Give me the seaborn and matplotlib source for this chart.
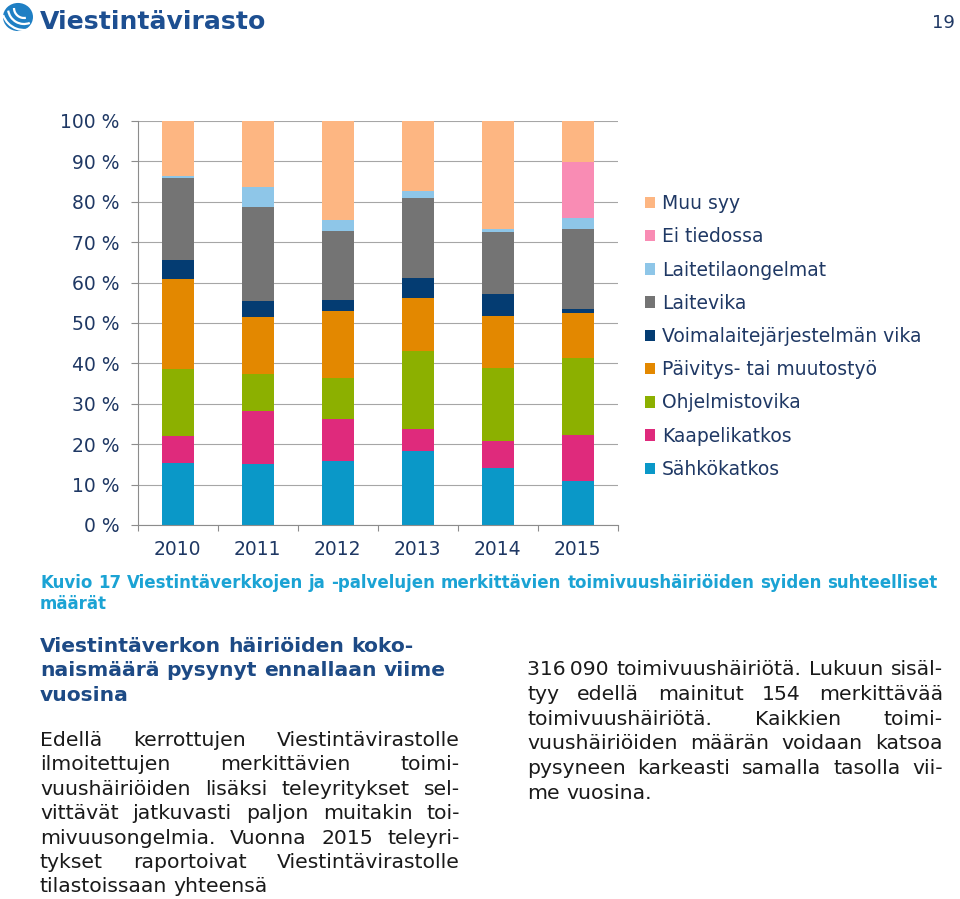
import numpy as np
import pandas as pd
import matplotlib
matplotlib.use('Agg')
import matplotlib.pyplot as plt
import seaborn as sns
from matplotlib.patches import Patch, Circle, Arc

# data (% of significant disruptions per year)
years = ['2010', '2011', '2012', '2013', '2014', '2015']
sahkokatkos = [15.3, 15.1, 15.9, 18.3, 14.2, 10.9]
kaapelikatkos = [6.8, 13.1, 10.3, 5.4, 6.6, 11.4]
ohjelmistovika = [16.5, 9.1, 10.3, 19.4, 18.1, 19.1]
paivitys = [22.3, 14.3, 16.5, 13.0, 12.9, 11.0]
voimalaite = [4.7, 3.9, 2.7, 5.0, 5.5, 1.1]
laitevika = [20.4, 23.3, 17.1, 19.9, 15.3, 19.7]
laitetila = [0.5, 4.8, 2.7, 1.7, 0.7, 2.7]
ei_tiedossa = [0, 0, 0, 0, 0, 13.9]
muu_syy = [13.5, 16.4, 24.5, 17.3, 26.7, 10.2]

series_names = ['Sähkökatkos', 'Kaapelikatkos', 'Ohjelmistovika',
                'Päivitys- tai muutostyö', 'Voimalaitejärjestelmän vika',
                'Laitevika', 'Laitetilaongelmat', 'Ei tiedossa', 'Muu syy']
series_values = [sahkokatkos, kaapelikatkos, ohjelmistovika, paivitys,
                 voimalaite, laitevika, laitetila, ei_tiedossa, muu_syy]
colors = ['#0A98C8', '#DF2A7C', '#8CB000', '#E38800', '#043C72',
          '#747474', '#8EC6E8', '#F98CB4', '#FDB682']

y_ticks = [0, 10, 20, 30, 40, 50, 60, 70, 80, 90, 100]
y_labels = ['%d %%' % v for v in y_ticks]

W, H = 960, 899
NAVY = '#1F3864'

sns.set_theme(style='white')
plt.rcParams['font.family'] = ['DejaVu Sans']

fig = plt.figure(figsize=(W / 100, H / 100), dpi=100)
fig.patch.set_facecolor('white')


def fx(x):
    return x / W


def fy(y):
    return 1 - y / H


# ---- chart ----
ax = fig.add_axes([fx(137.5), fy(525), 480 / W, 404 / H])
ax.set_facecolor('white')

df = pd.DataFrame({'year': np.repeat(years, len(series_names)),
                   'series': series_names * len(years)})
df['value'] = [series_values[j][i] for i in range(len(years))
               for j in range(len(series_names))]
df['cum'] = df.groupby('year')['value'].cumsum()

# draw cumulative totals top-down so each layer covers the one above it
for name, col in reversed(list(zip(series_names, colors))):
    sub = df[df['series'] == name]
    sns.barplot(data=sub, x='year', y='cum', order=years, color=col,
                saturation=1, width=0.4, errorbar=None, ax=ax,
                edgecolor='none', linewidth=0)

ax.set_xlim(-0.5, 5.5)
ax.set_ylim(0, 100)
ax.set_xlabel('')
ax.set_ylabel('')
ax.set_yticks(y_ticks)
ax.set_yticklabels(y_labels)
ax.yaxis.grid(True, color='#A6A6A6', lw=0.8)
ax.set_axisbelow(True)
for s in ['top', 'right']:
    ax.spines[s].set_visible(False)
for s in ['left', 'bottom']:
    ax.spines[s].set_color('#8C8C8C')
    ax.spines[s].set_linewidth(0.8)
ax.tick_params(axis='y', length=5, width=0.8, color='#8C8C8C', pad=8,
               labelsize=13.5, labelcolor=NAVY, left=True)
ax.set_xticks(np.arange(-0.5, 6, 1), minor=True)
ax.tick_params(axis='x', which='major', length=0, pad=10.5, labelsize=13.5,
               labelcolor=NAVY)
ax.tick_params(axis='x', which='minor', length=4, width=0.8, color='#8C8C8C',
               bottom=True)

handles = [Patch(facecolor=c, edgecolor='none') for c in colors]
fig.legend(handles[::-1], series_names[::-1], loc='upper left',
           bbox_to_anchor=(fx(645), fy(194)), frameon=False, fontsize=13.5,
           labelcolor=NAVY, handlelength=0.55, handleheight=0.55,
           handletextpad=0.35, labelspacing=0.76, borderaxespad=0,
           borderpad=0)

# ---- text helpers ----
renderer = fig.canvas.get_renderer()


def width_of(s, size, weight='normal'):
    t = fig.text(0, 0, s, fontsize=size, fontweight=weight)
    w = t.get_window_extent(renderer).width
    t.remove()
    return w


def fit_size(s, target, weight='normal'):
    return 10 * target / width_of(s, 10, weight)


def put_line(s, x0, x1, y, size, color, weight='normal', justify=True):
    words = s.split(' ')
    texts = [fig.text(0, fy(y), w, fontsize=size, fontweight=weight,
                      color=color, va='baseline') for w in words]
    widths = [t.get_window_extent(renderer).width for t in texts]
    if justify and len(words) > 1:
        gap = (x1 - x0 - sum(widths)) / (len(words) - 1)
    else:
        gap = width_of('a a', size, weight) - width_of('aa', size, weight)
    x = x0
    for t, w in zip(texts, widths):
        t.set_x(fx(x))
        x += w + gap


# logo
globe = Circle((fx(18), fy(17)), radius=15 / W, transform=fig.transFigure,
               facecolor='#1E7FC4', edgecolor='none')
fig.patches.append(globe)
for r, a1, a2 in [(22, 200, 300), (16, 190, 290), (10, 180, 280)]:
    fig.patches.append(Arc((fx(24), fy(8)), 2 * r / W, 2 * r / H,
                           theta1=a1, theta2=a2, transform=fig.transFigure,
                           color='white', lw=1.6))
logo = 'Viestintävirasto'
put_line(logo, 40, 265, 29, fit_size(logo, 225, 'bold'), '#1D4F91',
         'bold', justify=False)
fig.text(fx(955), fy(28), '19', fontsize=13, color=NAVY, ha='right',
         va='baseline')

# caption
CAP = '#1BA3D4'
cap1 = ('Kuvio 17 Viestintäverkkojen ja -palvelujen merkittävien '
        'toimivuushäiriöiden syiden suhteelliset')
cap_size = fit_size(cap1, 898, 'bold')
put_line(cap1, 40, 938, 588, cap_size, CAP, 'bold', justify=False)
put_line('määrät', 40, 938, 609, cap_size, CAP, 'bold', justify=False)

# heading
HEAD = '#1D4A85'
head = ['Viestintäverkon häiriöiden koko-',
        'naismäärä pysynyt ennallaan viime',
        'vuosina']
head_size = fit_size(head[1], 405, 'bold')
for i, s in enumerate(head):
    put_line(s, 40, 460, 652 + 24.3 * i, head_size, HEAD, 'bold',
             justify=False)

# body text
BODY = '#1A1A1A'
body_size = fit_size('tilastoissaan yhteensä', 228)
left_lines = ['Edellä kerrottujen Viestintävirastolle',
              'ilmoitettujen merkittävien toimi-',
              'vuushäiriöiden lisäksi teleyritykset sel-',
              'vittävät jatkuvasti paljon muitakin toi-',
              'mivuusongelmia. Vuonna 2015 teleyri-',
              'tykset raportoivat Viestintävirastolle',
              'tilastoissaan yhteensä']
for i, s in enumerate(left_lines):
    put_line(s, 40, 460, 746 + 24.4 * i, body_size, BODY,
             justify=i < len(left_lines) - 1)

right_lines = ['316\u202f090 toimivuushäiriötä. Lukuun sisäl-',
               'tyy edellä mainitut 154 merkittävää',
               'toimivuushäiriötä. Kaikkien toimi-',
               'vuushäiriöiden määrän voidaan katsoa',
               'pysyneen karkeasti samalla tasolla vii-',
               'me vuosina.']
for i, s in enumerate(right_lines):
    put_line(s, 527, 943, 675 + 24.8 * i, body_size, BODY,
             justify=i < len(right_lines) - 1)

fig.savefig('out.png', dpi=100, facecolor='white')
